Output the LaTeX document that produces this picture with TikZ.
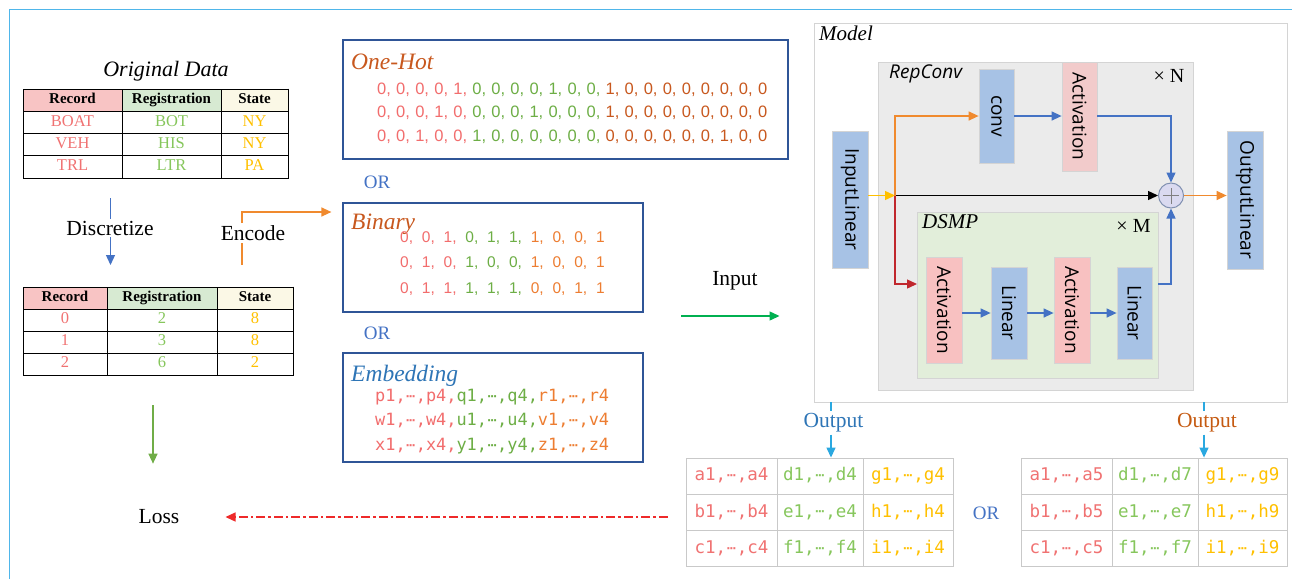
\documentclass[tikz,border=0pt]{standalone}
\usepackage{fontspec}
\setmainfont{Liberation Serif}
\newfontfamily\osans{Open Sans}
\newfontfamily\lsans{Liberation Sans}
\newfontfamily\mono{DejaVu Sans Mono}
\newfontfamily\dvsb{DejaVu Sans Bold}
\usetikzlibrary{arrows.meta}
\definecolor{frameblue}{HTML}{4FB6EA}
\definecolor{tred}{HTML}{F07272}
\definecolor{tgreen}{HTML}{86C65C}
\definecolor{tyellow}{HTML}{FFC000}
\definecolor{ohred}{HTML}{F26D6D}
\definecolor{ohgreen}{HTML}{6DAE45}
\definecolor{ohbrown}{HTML}{C8581E}
\definecolor{bnorange}{HTML}{ED7D31}
\definecolor{boxblue}{HTML}{2F5597}
\definecolor{orblue}{HTML}{4472C4}
\definecolor{embblue}{HTML}{2E75B6}
\definecolor{hdrpink}{HTML}{F8C4C4}
\definecolor{hdrgreen}{HTML}{D7EAD2}
\definecolor{hdryellow}{HTML}{FBF8E6}
\definecolor{lblue}{HTML}{A7C2E5}
\definecolor{toppink}{HTML}{F2CBCB}
\definecolor{dspink}{HTML}{F8C1C1}
\definecolor{repgray}{HTML}{EBEBEB}
\definecolor{dsmpgreen}{HTML}{E2EEDA}
\definecolor{edgegray}{HTML}{D4D4D4}
\definecolor{arrblue}{HTML}{4472C4}
\definecolor{arrorange}{HTML}{F08A2E}
\definecolor{arryellow}{HTML}{FFC000}
\definecolor{arrred}{HTML}{C0272D}
\definecolor{outblue}{HTML}{2AA8E0}
\definecolor{outbrown}{HTML}{C55A11}
\definecolor{lossred}{HTML}{EE2A2A}
\definecolor{inputgreen}{HTML}{00B050}
\definecolor{lossgreen}{HTML}{70AD47}
\definecolor{gridgray}{HTML}{C9C9C9}
\definecolor{plusfill}{HTML}{DADAF0}
\definecolor{plusedge}{HTML}{8090B0}
\newcommand\cdd{\makebox[0.6em]{\raisebox{1.3pt}{\dvsb\fontsize{11}{11}\selectfont ·\kern-1.2pt·\kern-1.2pt·}}}
\newcommand\ohsp{\spaceskip=0.32em\relax}
\newcommand\bnsp{\spaceskip=0.57em\relax}
\begin{document}
\begin{tikzpicture}[x=1pt,y=-1pt,
  every node/.style={inner sep=0pt},
  lbl/.style={inner sep=2pt, font=\fontsize{21.5}{24}\selectfont},
  hcell/.style={draw=black, line width=0.7pt, text height=10.5pt, text depth=3pt, font=\bfseries\fontsize{15}{17}\selectfont},
  dcell/.style={draw=black, line width=0.7pt, text height=11pt, text depth=3.5pt, font=\fontsize{16.5}{18}\selectfont},
  encbox/.style={draw=boxblue, line width=1.2pt, fill=white},
  enctitle/.style={anchor=west, font=\itshape\fontsize{23.5}{26}\selectfont},
  ohrow/.style={anchor=west, font=\lsans\fontsize{16.5}{20}\selectfont},
  bnrow/.style={anchor=west, font=\lsans\fontsize{15.5}{19}\selectfont},
  emrow/.style={anchor=west, font=\mono\fontsize{16.9}{20}\selectfont},
  ocell/.style={draw=gridgray, line width=1pt, text height=12.5pt, text depth=3.5pt, font=\mono\fontsize{17.5}{20}\selectfont},
  mbox/.style={draw=edgegray, line width=0.8pt, font=\osans\fontsize{19}{22}\selectfont},
  arr/.style={line width=1.3pt, -{Triangle[length=10pt,width=9pt]}},
  orlbl/.style={text=orblue, font=\fontsize{19}{21}\selectfont}
]
\useasboundingbox (0,0) rectangle (1292,579);
% outer frame
\draw[frameblue, line width=1.8pt] (9.5,579) -- (9.5,9.5) -- (1292,9.5);

% ---------- Original data table ----------
\node[lbl, font=\itshape\fontsize{22}{24}\selectfont] (otitle) at (166,71) {Original Data};
\node[hcell, fill=hdrpink, minimum width=99, minimum height=22.25] (t1h1) at (72.5,100.1) {Record};
\node[hcell, fill=hdrgreen, minimum width=99, minimum height=22.25] (t1h2) at (171.5,100.1) {Registration};
\node[hcell, fill=hdryellow, minimum width=67, minimum height=22.25] (t1h3) at (254.5,100.1) {State};
\node[dcell, text=tred, minimum width=99, minimum height=22.25] (t1a1) at (72.5,122.4) {BOAT};
\node[dcell, text=tgreen, minimum width=99, minimum height=22.25] (t1a2) at (171.5,122.4) {BOT};
\node[dcell, text=tyellow, minimum width=67, minimum height=22.25] (t1a3) at (254.5,122.4) {NY};
\node[dcell, text=tred, minimum width=99, minimum height=22.25] (t1b1) at (72.5,144.6) {VEH};
\node[dcell, text=tgreen, minimum width=99, minimum height=22.25] (t1b2) at (171.5,144.6) {HIS};
\node[dcell, text=tyellow, minimum width=67, minimum height=22.25] (t1b3) at (254.5,144.6) {NY};
\node[dcell, text=tred, minimum width=99, minimum height=22.25] (t1c1) at (72.5,166.9) {TRL};
\node[dcell, text=tgreen, minimum width=99, minimum height=22.25] (t1c2) at (171.5,166.9) {LTR};
\node[dcell, text=tyellow, minimum width=67, minimum height=22.25] (t1c3) at (254.5,166.9) {PA};
\draw[line width=1.6pt] (t1h3.north east) -- (t1c3.south east) -- (t1c1.south west);

% ---------- Discretize ----------
\node[lbl] (disc) at (110,228) {Discretize};
\coordinate (dtop) at (110.5,198);
\coordinate (dbot) at (110.5,265);
\draw[arrblue, line width=1.3pt] (dtop) -- (dtop |- disc.north);
\draw[arr, arrblue] (dtop |- disc.south) -- (dbot);

% ---------- Discretized table ----------
\node[hcell, fill=hdrpink, minimum width=84, minimum height=22] (t2h1) at (65,298) {Record};
\node[hcell, fill=hdrgreen, minimum width=110, minimum height=22] (t2h2) at (162,298) {Registration};
\node[hcell, fill=hdryellow, minimum width=76, minimum height=22] (t2h3) at (255,298) {State};
\node[dcell, text=tred, minimum width=84, minimum height=22] (t2a1) at (65,320) {0};
\node[dcell, text=tgreen, minimum width=110, minimum height=22] (t2a2) at (162,320) {2};
\node[dcell, text=tyellow, minimum width=76, minimum height=22] (t2a3) at (255,320) {8};
\node[dcell, text=tred, minimum width=84, minimum height=22] (t2b1) at (65,342) {1};
\node[dcell, text=tgreen, minimum width=110, minimum height=22] (t2b2) at (162,342) {3};
\node[dcell, text=tyellow, minimum width=76, minimum height=22] (t2b3) at (255,342) {8};
\node[dcell, text=tred, minimum width=84, minimum height=22] (t2c1) at (65,364) {2};
\node[dcell, text=tgreen, minimum width=110, minimum height=22] (t2c2) at (162,364) {6};
\node[dcell, text=tyellow, minimum width=76, minimum height=22] (t2c3) at (255,364) {2};
\draw[line width=1.6pt] (t2h3.north east) -- (t2c3.south east) -- (t2c1.south west);

% ---------- Loss ----------
\node[lbl] (loss) at (159,517) {Loss};
\coordinate (gtop) at (153,405);
\draw[arr, lossgreen, shorten >=44pt] (gtop) -- (gtop |- loss.north);

% ---------- Encode ----------
\node[lbl] (enc) at (253,233) {Encode};
\coordinate (encS) at (242,265);
\coordinate (encT) at (242,212);
\draw[arrorange, line width=1.3pt] (encS) -- (encS |- enc.south);

% ---------- Encoding boxes ----------
\node[encbox, minimum width=445, minimum height=119] (onehot) at (565.5,99.5) {};
\node[enctitle, text=ohbrown] (ohtitle) at (351,62) {One-Hot};
\node[ohrow] (oh1) at (377,90) {\ohsp\textcolor{ohred}{0, 0, 0, 0, 1, }\textcolor{ohgreen}{0, 0, 0, 0, 1, 0, 0, }\textcolor{ohbrown}{1, 0, 0, 0, 0, 0, 0, 0, 0}};
\node[ohrow] (oh2) at (377,113) {\ohsp\textcolor{ohred}{0, 0, 0, 1, 0, }\textcolor{ohgreen}{0, 0, 0, 1, 0, 0, 0, }\textcolor{ohbrown}{1, 0, 0, 0, 0, 0, 0, 0, 0}};
\node[ohrow] (oh3) at (377,137) {\ohsp\textcolor{ohred}{0, 0, 1, 0, 0, }\textcolor{ohgreen}{1, 0, 0, 0, 0, 0, 0, }\textcolor{ohbrown}{0, 0, 0, 0, 0, 0, 1, 0, 0}};
\node[orlbl] (or1) at (377,182) {OR};

\node[encbox, minimum width=300, minimum height=109] (binary) at (493,257.5) {};
\draw[arr, arrorange, shorten >=11pt] (encS |- enc.north) -- (encT) -- (binary.west |- encT);
\node[enctitle, text=ohbrown] (bntitle) at (351,224) {Binary};
\node[bnrow] (bn1) at (400,238) {\bnsp\textcolor{ohred}{0, 0, 1, }\textcolor{ohgreen}{0, 1, 1, }\textcolor{bnorange}{1, 0, 0, 1}};
\node[bnrow] (bn2) at (400,263) {\bnsp\textcolor{ohred}{0, 1, 0, }\textcolor{ohgreen}{1, 0, 0, }\textcolor{bnorange}{1, 0, 0, 1}};
\node[bnrow] (bn3) at (400,289) {\bnsp\textcolor{ohred}{0, 1, 1, }\textcolor{ohgreen}{1, 1, 1, }\textcolor{bnorange}{0, 0, 1, 1}};
\node[orlbl] (or2) at (377,333) {OR};

\node[encbox, minimum width=300, minimum height=109] (emb) at (493,407.5) {};
\node[enctitle, text=embblue] (emtitle) at (351,376) {Embedding};
\node[emrow] (em1) at (375,397) {\textcolor{ohred}{p1,\cdd,p4,}\textcolor{ohgreen}{q1,\cdd,q4,}\textcolor{bnorange}{r1,\cdd,r4}};
\node[emrow] (em2) at (375,421) {\textcolor{ohred}{w1,\cdd,w4,}\textcolor{ohgreen}{u1,\cdd,u4,}\textcolor{bnorange}{v1,\cdd,v4}};
\node[emrow] (em3) at (375,446) {\textcolor{ohred}{x1,\cdd,x4,}\textcolor{ohgreen}{y1,\cdd,y4,}\textcolor{bnorange}{z1,\cdd,z4}};

% ---------- Model ----------
\node[draw=edgegray, line width=1pt, fill=white, minimum width=473, minimum height=379] (model) at (1050.5,212.5) {};
\node[lbl, anchor=west, font=\itshape\fontsize{21}{24}\selectfont] (mtitle) at (817,33) {Model};
\node[lbl] (input) at (735,281) {Input};
\coordinate (inS) at (681,316);
\draw[arr, inputgreen, shorten >=34pt] (inS) -- (model.west |- inS);

\node[draw=edgegray, line width=1pt, fill=repgray, minimum width=315, minimum height=328] (rep) at (1035.5,226) {};
\node[anchor=west, font=\osans\itshape\fontsize{19}{22}\selectfont] (reptitle) at (889,74) {RepConv};
\node[font=\fontsize{20}{22}\selectfont] (xN) at (1169,76) {× N};
\node[draw=edgegray, line width=1pt, fill=dsmpgreen, minimum width=241, minimum height=166] (dsmp) at (1037.5,295) {};
\node[anchor=west, font=\itshape\fontsize{21}{24}\selectfont] (dsmptitle) at (922,222) {DSMP};
\node[font=\fontsize{20}{22}\selectfont] (xM) at (1133.5,226) {× M};

\node[mbox, fill=lblue, minimum width=36, minimum height=137] (il) at (850,199.5) {\rotatebox{-90}{InputLinear}};
\node[mbox, fill=lblue, minimum width=36, minimum height=138] (ol) at (1245,200) {\rotatebox{-90}{OutputLinear}};
\node[mbox, fill=lblue, minimum width=35, minimum height=94] (conv) at (996.5,116) {\rotatebox{-90}{conv}};
\node[mbox, fill=toppink, minimum width=35, minimum height=109] (act0) at (1079.5,116.5) {\rotatebox{-90}{Activation}};
\node[mbox, fill=dspink, minimum width=36, minimum height=106] (a1) at (944,310) {\rotatebox{-90}{Activation}};
\node[mbox, fill=lblue, minimum width=36, minimum height=92] (l1) at (1009,313) {\rotatebox{-90}{Linear}};
\node[mbox, fill=dspink, minimum width=36, minimum height=106] (a2) at (1072,310) {\rotatebox{-90}{Activation}};
\node[mbox, fill=lblue, minimum width=35, minimum height=92] (l2) at (1134.5,313) {\rotatebox{-90}{Linear}};
\node[circle, draw=plusedge, line width=1pt, fill=plusfill, minimum size=25] (plus) at (1171,195.5) {};
\draw[gray, line width=0.8pt] ([yshift=-8pt]plus.center) -- ([yshift=8pt]plus.center);
\draw[gray, line width=0.8pt] ([xshift=-8pt]plus.center) -- ([xshift=8pt]plus.center);

\coordinate (j) at (895,195.5);
\coordinate (dsmpin) at (917,284);
\coordinate (dsmpout) at (1158,284);
\draw[arr, arryellow] (il.east |- j) -- (j);
\draw[arr, black] (j) -- (plus.west);
\draw[arr, arrorange] (j) -- (j |- conv) -- (conv.west);
\draw[arr, arrblue] (conv.east) -- (act0.west |- conv);
\draw[arr, arrblue] (act0.east |- conv) -- (plus |- conv) -- (plus.north);
\draw[arr, arrorange] (plus.east) -- (ol.west |- plus);
\draw[arr, arrred] (j) -- (j |- dsmpin) -- (dsmpin);
\draw[arr, arrblue] (a1.east |- l1) -- (l1.west);
\draw[arr, arrblue] (l1.east) -- (a2.west |- l1);
\draw[arr, arrblue] (a2.east |- l2) -- (l2.west);
\draw[arr, arrblue] (dsmpout) -- (plus |- dsmpout) -- (plus.south);

% ---------- Outputs ----------
\node[lbl, text=embblue] (out1) at (833.5,423) {Output};
\node[lbl, text=outbrown] (out2) at (1207,423) {Output};
\node[orlbl] (or3) at (986,513) {OR};

\node[ocell, text=tred, minimum width=91, minimum height=36.3] (p11) at (731.5,476.2) {a1,\cdd,a4};
\node[ocell, text=tgreen, minimum width=86, minimum height=36.3] (p12) at (820,476.2) {d1,\cdd,d4};
\node[ocell, text=tyellow, minimum width=90, minimum height=36.3] (p13) at (908,476.2) {g1,\cdd,g4};
\node[ocell, text=tred, minimum width=91, minimum height=36.3] (p21) at (731.5,512.5) {b1,\cdd,b4};
\node[ocell, text=tgreen, minimum width=86, minimum height=36.3] (p22) at (820,512.5) {e1,\cdd,e4};
\node[ocell, text=tyellow, minimum width=90, minimum height=36.3] (p23) at (908,512.5) {h1,\cdd,h4};
\node[ocell, text=tred, minimum width=91, minimum height=36.3] (p31) at (731.5,548.8) {c1,\cdd,c4};
\node[ocell, text=tgreen, minimum width=86, minimum height=36.3] (p32) at (820,548.8) {f1,\cdd,f4};
\node[ocell, text=tyellow, minimum width=90, minimum height=36.3] (p33) at (908,548.8) {i1,\cdd,i4};

\node[ocell, text=tred, minimum width=91, minimum height=36.3] (q11) at (1066.5,476.2) {a1,\cdd,a5};
\node[ocell, text=tgreen, minimum width=86, minimum height=36.3] (q12) at (1155,476.2) {d1,\cdd,d7};
\node[ocell, text=tyellow, minimum width=89, minimum height=36.3] (q13) at (1242.5,476.2) {g1,\cdd,g9};
\node[ocell, text=tred, minimum width=91, minimum height=36.3] (q21) at (1066.5,512.5) {b1,\cdd,b5};
\node[ocell, text=tgreen, minimum width=86, minimum height=36.3] (q22) at (1155,512.5) {e1,\cdd,e7};
\node[ocell, text=tyellow, minimum width=89, minimum height=36.3] (q23) at (1242.5,512.5) {h1,\cdd,h9};
\node[ocell, text=tred, minimum width=91, minimum height=36.3] (q31) at (1066.5,548.8) {c1,\cdd,c5};
\node[ocell, text=tgreen, minimum width=86, minimum height=36.3] (q32) at (1155,548.8) {f1,\cdd,f7};
\node[ocell, text=tyellow, minimum width=89, minimum height=36.3] (q33) at (1242.5,548.8) {i1,\cdd,i9};

\coordinate (o1top) at (831,402);
\coordinate (o2top) at (1204,402);
\draw[outblue, line width=1.3pt] (o1top) -- (o1top |- out1.north);
\draw[arr, outblue] (o1top |- out1.south) -- (o1top |- p12.north);
\draw[outblue, line width=1.3pt] (o2top) -- (o2top |- out2.north);
\draw[arr, outblue] (o2top |- out2.south) -- (o2top |- q13.north);

\draw[lossred, line width=1.3pt, dash pattern=on 9pt off 3pt on 2.5pt off 3pt, -{Triangle[length=10pt,width=9pt]}, shorten <=18pt, shorten >=44pt] (p21.west |- loss) -- (loss.east);
\end{tikzpicture}
\end{document}
